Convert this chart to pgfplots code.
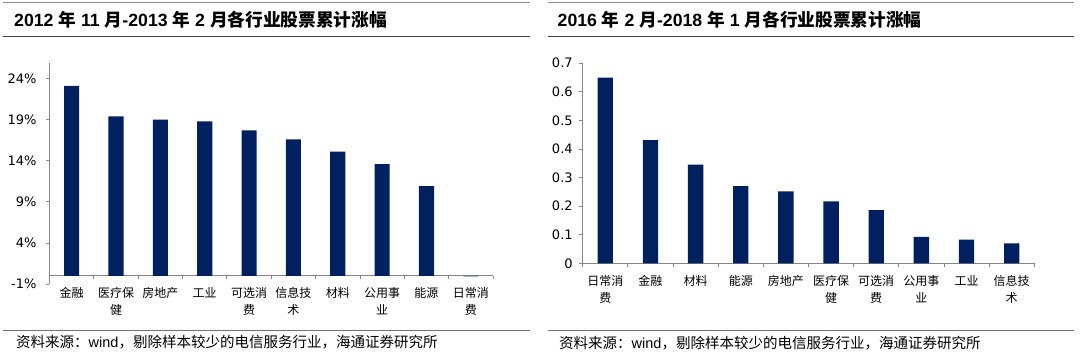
\documentclass[border=0pt]{standalone}
\usepackage{pgfplots}
\pgfplotsset{compat=1.18}
\usepackage{fontspec}
\setmainfont{Liberation Sans}
\newfontfamily\cjk{Noto Sans CJK SC}
\newfontfamily\tickfont{DejaVu Sans}
\definecolor{navy}{HTML}{002060}
\definecolor{axisgray}{HTML}{868686}
\begin{document}
\begin{tikzpicture}[x=1pt,y=1pt]
\path[use as bounding box] (0,0) rectangle (1080,358);
% header / footer rules
\draw[black!45, line width=0.8pt] (3,355.3) -- (530,355.3);
\draw[black!75, line width=1.6pt] (3,321.3) -- (530,321.3);
\draw[black!55, line width=0.8pt] (3,27.3) -- (530,27.3);
\draw[black!45, line width=0.8pt] (548,355.3) -- (1074,355.3);
\draw[black!75, line width=1.6pt] (548,321.3) -- (1074,321.3);
\draw[black!55, line width=0.8pt] (548,27.3) -- (1074,27.3);
% titles
\node[anchor=west, inner sep=0pt, font=\bfseries\fontsize{17.7}{20}\selectfont] at (14,338.3)
 {2012 {\cjk 年} 11 {\cjk 月}-2013 {\cjk 年} 2 {\cjk 月各行业股票累计涨幅}};
\node[anchor=west, inner sep=0pt, font=\bfseries\fontsize{17.7}{20}\selectfont] at (557.5,338.3)
 {2016 {\cjk 年} 2 {\cjk 月}-2018 {\cjk 年} 1 {\cjk 月各行业股票累计涨幅}};
% sources
\node[anchor=west, inner sep=0pt, font=\fontsize{14.5}{16}\selectfont] at (16,16.3)
 {{\cjk 资料来源：}wind{\cjk ，剔除样本较少的电信服务行业，海通证券研究所}};
\node[anchor=west, inner sep=0pt, font=\fontsize{14.5}{16}\selectfont] at (559,14.7)
 {{\cjk 资料来源：}wind{\cjk ，剔除样本较少的电信服务行业，海通证券研究所}};

% left chart
\begin{axis}[
 at={(49.5pt,74pt)}, anchor=south west, scale only axis,
 width=443.5pt, height=221pt,
 xmin=-0.5, xmax=9.5, ymin=-1, ymax=25.9,
 axis y line*=left, axis x line*=middle,
 axis line style={draw=axisgray, line width=0.8pt},
 tick align=outside, major tick length=3.5pt,
 tick style={draw=axisgray, line width=0.8pt},
 ytick={-1,4,9,14,19,24}, yticklabels={-1\%,4\%,9\%,14\%,19\%,24\%},
 yticklabel style={font=\tickfont\fontsize{13}{15}\selectfont, xshift=-6pt},
 xtick={-0.5,0.5,...,9.5}, xticklabels={},
 extra x ticks={0,1,2,3,4,5,6,7,8,9},
 extra x tick labels={金融,医疗保\\健,房地产,工业,可选消\\费,信息技\\术,材料,公用事\\业,能源,日常消\\费},
 extra x tick style={major tick length=0pt, tick label style={font=\cjk\fontsize{12}{17}\selectfont, align=center, anchor=north, yshift=-8pt}},
 clip=false,
]
\addplot[ybar, bar width=0.34, fill=navy, draw=none] coordinates {
 (0,23.1) (1,19.4) (2,19.0) (3,18.8) (4,17.7) (5,16.6) (6,15.1) (7,13.6) (8,10.9) (9,-0.08)};
\end{axis}

% right chart
\begin{axis}[
 at={(582.7pt,94.5pt)}, anchor=south west, scale only axis,
 width=451.6pt, height=200.5pt,
 xmin=-0.5, xmax=9.5, ymin=0, ymax=0.7,
 axis lines*=left,
 axis line style={draw=axisgray, line width=0.8pt},
 tick align=outside, major tick length=3.5pt,
 tick style={draw=axisgray, line width=0.8pt},
 ytick={0,0.1,0.2,0.3,0.4,0.5,0.6,0.7}, yticklabels={0,0.1,0.2,0.3,0.4,0.5,0.6,0.7},
 yticklabel style={font=\tickfont\fontsize{13}{15}\selectfont, xshift=-3pt},
 xtick={-0.5,0.5,...,9.5}, xticklabels={},
 extra x ticks={0,1,2,3,4,5,6,7,8,9},
 extra x tick labels={日常消\\费,金融,材料,能源,房地产,医疗保\\健,可选消\\费,公用事\\业,工业,信息技\\术},
 extra x tick style={major tick length=0pt, tick label style={font=\cjk\fontsize{12}{17}\selectfont, align=center, anchor=north, yshift=-8.5pt}},
 clip=false,
]
\addplot[ybar, bar width=0.34, fill=navy, draw=none] coordinates {
 (0,0.649) (1,0.431) (2,0.345) (3,0.270) (4,0.252) (5,0.217) (6,0.186) (7,0.093) (8,0.083) (9,0.070)};
\end{axis}
\end{tikzpicture}
\end{document}
